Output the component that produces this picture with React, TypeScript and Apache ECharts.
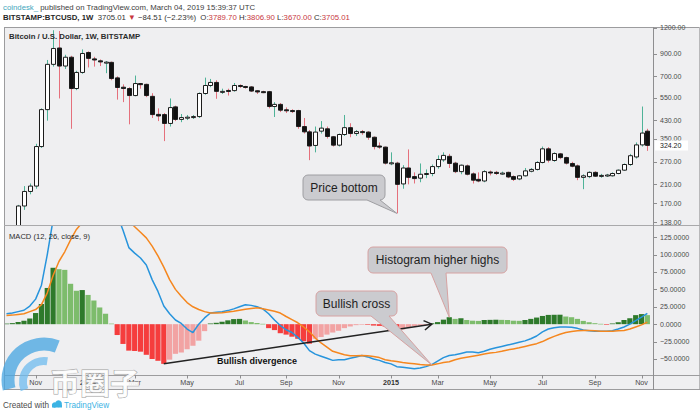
import React, { useEffect, useRef } from 'react';
import * as echarts from 'echarts';

// ---------- data (weekly bars, BITSTAMP BTCUSD) ----------
const firstWeek = '2013-09-30';
const axisStart = '2013-09-27';
const axisEnd = '2015-11-17';

const opens = [
  128, 124, 130, 165, 194, 206, 320, 483, 800, 960,
  785, 866, 611, 731, 913, 850, 832, 815, 818, 688,
  620, 611, 565, 646, 640, 560, 458, 457, 414, 498,
  433, 440, 444, 447, 578, 632, 654, 590, 598, 597,
  632, 625, 622, 596, 590, 590, 500, 512, 482, 478,
  478, 400, 377, 324, 380, 390, 357, 325, 366, 395,
  370, 378, 376, 355, 322, 318, 264, 266, 211, 252,
  229, 225, 235, 237, 256, 276, 287, 266, 242, 258,
  236, 222, 218, 241, 240, 237, 240, 229, 223, 231,
  243, 248, 268, 312, 274, 295, 283, 265, 258, 227,
  229, 240, 230, 232, 231, 237, 246, 262, 285, 326,
  380,
];
const closes = [
  124, 130, 165, 194, 206, 320, 483, 800, 955, 785,
  866, 611, 731, 903, 855, 840, 822, 820, 683, 618,
  611, 565, 646, 638, 565, 457, 450, 414, 494, 433,
  442, 444, 447, 578, 632, 654, 592, 592, 596, 632,
  626, 620, 594, 588, 588, 500, 512, 480, 477, 476,
  400, 377, 322, 376, 393, 358, 325, 366, 395, 370,
  378, 375, 355, 320, 318, 266, 267, 210, 252, 227,
  224, 235, 237, 256, 277, 290, 265, 242, 260, 235,
  220, 218, 242, 240, 237, 238, 228, 222, 231, 244,
  248, 268, 312, 275, 296, 283, 266, 257, 227, 231,
  240, 230, 232, 233, 237, 246, 262, 289, 326, 372,
  324.2,
];
const highs = [
  131, 130, 167, 206, 212, 330, 490, 840, 1170, 1160,
  890, 880, 745, 945, 925, 870, 845, 830, 825, 700,
  640, 620, 706, 650, 645, 580, 490, 465, 547, 505,
  460, 455, 455, 585, 690, 680, 670, 610, 610, 650,
  640, 630, 628, 600, 596, 595, 525, 520, 495, 485,
  482, 440, 385, 400, 425, 400, 360, 370, 455, 415,
  385, 385, 380, 358, 335, 320, 300, 270, 260, 310,
  240, 265, 248, 262, 290, 300, 295, 270, 262, 262,
  240, 240, 246, 245, 244, 242, 242, 232, 233, 252,
  252, 272, 320, 318, 300, 298, 286, 270, 262, 235,
  243, 243, 236, 236, 240, 248, 265, 295, 335, 500,
  390,
];
const lows = [
  108, 120, 126, 158, 188, 200, 315, 427, 780, 547,
  760, 390, 600, 720, 773, 780, 785, 725, 670, 540,
  525, 410, 560, 610, 555, 440, 425, 340, 400, 425,
  420, 430, 435, 440, 570, 620, 545, 575, 565, 590,
  615, 610, 588, 575, 580, 490, 445, 470, 465, 465,
  390, 370, 275, 300, 370, 350, 320, 320, 360, 355,
  360, 365, 345, 310, 312, 262, 260, 152, 200, 210,
  212, 215, 225, 230, 250, 270, 252, 238, 235, 232,
  212, 215, 215, 232, 233, 233, 225, 218, 220, 229,
  240, 245, 265, 268, 270, 278, 262, 254, 220, 199,
  225, 228, 226, 228, 229, 235, 244, 258, 280, 320,
  305,
];

// MACD (12, 26, close, 9)
const macdLine = [
  15, 16, 18, 20, 26, 36, 56, 100, 150, 169,
  182, 179, 184, 195, 198, 199, 194, 189, 176, 157,
  135, 110, 102, 95, 85, 64, 47, 26, 15, 6,
  1, -7, -12, 0, 9, 16, 17, 18, 19.5, 22,
  25, 28, 27, 25, 22, 15, 6, -2, -8, -12,
  -19, -27, -38, -43, -46, -49, -52, -51, -51, -49,
  -47, -45, -47, -50, -52, -55, -57, -61, -62, -63,
  -64, -63, -61, -58, -53, -48, -45, -44, -42, -40,
  -40, -41, -39, -36, -34, -32, -30, -28, -26, -24,
  -21, -17, -11, -7, -5, -4, -4, -4.5, -6, -8.5,
  -9.5, -10, -10, -10, -9.5, -7, -4, 0, 5, 10,
  15.5,
];
const signalLine = [
  12.5, 13, 14, 15, 18, 21, 28, 45, 70, 90,
  104, 121, 136, 146, 156, 165, 170, 174, 175, 172,
  164, 148, 140, 132, 124, 112, 98, 82, 64, 50,
  40, 31, 25, 21, 18, 16, 16, 16.5, 17.5, 18.5,
  20, 21.5, 22.5, 23.5, 22, 20.5, 18.5, 16, 11, 6.5,
  2, -4, -11, -20, -27, -33, -39, -41.5, -44, -45.5,
  -45.5, -45, -45.5, -46.5, -48, -51, -52.5, -53.5, -55, -56,
  -57, -58, -58.5, -58.5, -57, -55, -54, -51, -49, -47.5,
  -46, -44.5, -43, -41.5, -40.5, -39, -37, -35.5, -34, -32,
  -30, -28, -25, -21, -17.5, -14.5, -12, -10.5, -9.5, -9,
  -9, -9.5, -10, -10, -10, -9.5, -9, -7, -4, -1,
  3,
];
const histogram = [
  0.8, 1.5, 3.3, 5, 8, 16, 29, 52, 81, 79,
  78, 58, 48, 49, 42, 34, 24, 15, 0.8, -15.6,
  -28.4, -38, -38.5, -39.5, -44, -50, -52.6, -57, -51, -42.6,
  -40.7, -36, -31, -23.7, -10, 1, 2, 3.5, 5.5, 7.3,
  7.6, 5.3, 3, 1.8, 0.5, -5.7, -8.5, -13, -15, -18,
  -21, -24.6, -28, -21, -18.5, -15, -12, -9.5, -5.7, -3.3,
  -1.4, -0.5, -0.8, -2, -2.5, -3.5, -5, -9.5, -7.6, -4.7,
  -3, -2, -1.2, 1.3, 3, 6.5, 10, 7.6, 8.5, 6,
  5, 4.7, 6, 6.2, 6.4, 6.2, 6, 5, 4.8, 6,
  7.6, 9.5, 11.8, 13.3, 13.5, 13.6, 11, 10, 7.6, 4.7,
  2.8, 1.4, 0.5, -0.3, 1, 2.8, 6, 8.5, 13, 14.5,
  13,
];

const priceTicks = [1200, 900, 700, 550, 430, 350, 270, 210, 170, 138];
const macdTicks = [125, 100, 75, 50, 25, 0, -25, -50];
const timeTicks = [
  { date: '2013-11-04', label: 'Nov', year: false },
  { date: '2014-01-06', label: '2014', year: true },
  { date: '2014-03-03', label: 'Mar', year: false },
  { date: '2014-05-05', label: 'May', year: false },
  { date: '2014-07-07', label: 'Jul', year: false },
  { date: '2014-09-01', label: 'Sep', year: false },
  { date: '2014-11-03', label: 'Nov', year: false },
  { date: '2015-01-05', label: '2015', year: true },
  { date: '2015-03-02', label: 'Mar', year: false },
  { date: '2015-05-04', label: 'May', year: false },
  { date: '2015-07-06', label: 'Jul', year: false },
  { date: '2015-09-07', label: 'Sep', year: false },
  { date: '2015-11-02', label: 'Nov', year: false },
];

// ---------- helpers ----------
const toUTC = (s: string) => {
  const [y, m, d] = s.split('-').map(Number);
  return Date.UTC(y, m - 1, d);
};
const WEEK = 7 * 24 * 3600 * 1000;
const weeks = opens.map((_, i) => toUTC(firstWeek) + i * WEEK);
const FONT = 'Liberation Sans, Arial, Helvetica, sans-serif';

const histColor = (i: number) => {
  const v = histogram[i];
  const p = i > 0 ? histogram[i - 1] : v;
  if (v >= 0) return v >= p ? '#2e7a2b' : '#7dbc6c';
  return v < p ? '#f53d3d' : '#f2a3a3';
};

const txt = (x: number, y: number, text: string, opts: any = {}) => {
  const align = opts.align || 'left';
  return {
    type: 'text',
    x,
    y,
    z: opts.z ?? 20,
    style: {
      text,
      fontSize: opts.fontSize ?? 7,
      fontFamily: opts.fontFamily ?? FONT,
      fontWeight: opts.fontWeight ?? 'normal',
      fill: opts.fill ?? '#4a4a4a',
      stroke: opts.stroke,
      lineWidth: opts.lineWidth,
      opacity: opts.opacity ?? 1,
      textAlign: align,
      align,
      textVerticalAlign: 'middle',
      verticalAlign: 'middle',
      rich: opts.rich,
    },
  };
};
const ln = (x1: number, y1: number, x2: number, y2: number, stroke = '#a6a6a8', w = 1, z = 15) => ({
  type: 'line',
  z,
  shape: { x1, y1, x2, y2 },
  style: { stroke, lineWidth: w },
});

const calloutPoints = (
  x: number, y: number, w: number, h: number, r: number,
  b1: number, b2: number, tip: number[]
) => {
  const pts: number[][] = [];
  const arc = (cx: number, cy: number, a0: number, a1: number) => {
    for (let k = 0; k <= 4; k++) {
      const a = ((a0 + ((a1 - a0) * k) / 4) * Math.PI) / 180;
      pts.push([cx + r * Math.cos(a), cy + r * Math.sin(a)]);
    }
  };
  arc(x + r, y + r, 180, 270);
  arc(x + w - r, y + r, 270, 360);
  arc(x + w - r, y + h - r, 0, 90);
  pts.push([b2, y + h], tip, [b1, y + h]);
  arc(x + r, y + h - r, 90, 180);
  return pts;
};

export default function App() {
  const ref = useRef<HTMLDivElement>(null);

  useEffect(() => {
    const chart = echarts.init(ref.current as HTMLDivElement, undefined, { renderer: 'svg' });
    const xMin = toUTC(axisStart);
    const xMax = toUTC(axisEnd);

    chart.setOption({
      animation: false,
      backgroundColor: '#ffffff',
      grid: [
        { left: 4, right: 46, top: 27, height: 198 },
        { left: 4, right: 46, top: 226, height: 149 },
      ],
      xAxis: [
        { type: 'time', gridIndex: 0, min: xMin, max: xMax, show: false },
        { type: 'time', gridIndex: 1, min: xMin, max: xMax, show: false },
      ],
      yAxis: [
        { type: 'log', logBase: 10, gridIndex: 0, min: 133.5, max: 1213, show: false },
        { type: 'value', gridIndex: 1, min: -73, max: 141, show: false },
      ],
      series: [
        {
          type: 'custom',
          name: 'BTCUSD',
          xAxisIndex: 0,
          yAxisIndex: 0,
          clip: true,
          encode: { x: 0, y: [1, 2, 3, 4] },
          data: weeks.map((t, i) => [t, opens[i], closes[i], lows[i], highs[i]]),
          renderItem: (params: any, api: any) => {
            const t = api.value(0);
            const o = api.value(1);
            const c = api.value(2);
            const l = api.value(3);
            const h = api.value(4);
            const po = api.coord([t, o]);
            const pc = api.coord([t, c]);
            const pl = api.coord([t, l]);
            const ph = api.coord([t, h]);
            const x = Math.round(po[0]) + 0.5;
            const up = c >= o;
            const top = Math.min(po[1], pc[1]);
            const bh = Math.max(Math.abs(po[1] - pc[1]), 1);
            return {
              type: 'group',
              children: [
                {
                  type: 'line',
                  shape: { x1: x, y1: ph[1], x2: x, y2: pl[1] },
                  style: { stroke: up ? '#4fb398' : '#e5707c', lineWidth: 1 },
                },
                {
                  type: 'rect',
                  shape: { x: x - 2, y: top, width: 4, height: bh },
                  style: { fill: up ? '#ffffff' : '#111111', stroke: '#1c1c1c', lineWidth: 1 },
                },
              ],
            };
          },
        },
        {
          type: 'custom',
          name: 'Histogram',
          xAxisIndex: 1,
          yAxisIndex: 1,
          clip: true,
          encode: { x: 0, y: 1 },
          data: weeks.map((t, i) => [t, histogram[i]]),
          renderItem: (params: any, api: any) => {
            const t = api.value(0);
            const v = api.value(1);
            const p = api.coord([t, v]);
            const z = api.coord([t, 0]);
            return {
              type: 'rect',
              shape: {
                x: p[0] - 2.6,
                y: Math.min(p[1], z[1]),
                width: 5.2,
                height: Math.max(Math.abs(z[1] - p[1]), 0.6),
              },
              style: { fill: histColor(params.dataIndex) },
            };
          },
        },
        {
          type: 'line',
          name: 'MACD',
          xAxisIndex: 1,
          yAxisIndex: 1,
          showSymbol: false,
          data: weeks.map((t, i) => [t, macdLine[i]]),
          lineStyle: { color: '#2794dc', width: 1.5 },
          itemStyle: { color: '#2794dc' },
        },
        {
          type: 'line',
          name: 'Signal',
          xAxisIndex: 1,
          yAxisIndex: 1,
          showSymbol: false,
          data: weeks.map((t, i) => [t, signalLine[i]]),
          lineStyle: { color: '#f5871f', width: 1.5 },
          itemStyle: { color: '#f5871f' },
        },
      ],
    });

    const px = (t: number) => chart.convertToPixel({ xAxisIndex: 1 } as any, t) as unknown as number;
    const pyP = (v: number) => chart.convertToPixel({ yAxisIndex: 0 } as any, v) as unknown as number;
    const pyM = (v: number) => chart.convertToPixel({ yAxisIndex: 1 } as any, v) as unknown as number;

    const els: any[] = [];
    // frame background
    els.push({ type: 'rect', z: -10, shape: { x: 4, y: 27, width: 696, height: 363 }, style: { fill: '#efeff1' } });
    // borders
    els.push(ln(4, 27.5, 700, 27.5, '#9c9c9e'));
    els.push(ln(4.5, 27, 4.5, 390, '#9c9c9e'));
    els.push(ln(699.5, 27, 699.5, 390, '#b8b8ba'));
    els.push(ln(4, 389.5, 700, 389.5, '#9c9c9e'));
    els.push(ln(4, 225.5, 700, 225.5, '#a9a9ab'));
    els.push(ln(4, 375.5, 700, 375.5, '#9c9c9e'));
    els.push(ln(653.5, 27, 653.5, 390, '#8e8e90'));

    // header
    els.push(
      txt(3, 7, '{c|coindesk_}{n| published on TradingView.com, March 04, 2019 15:39:37 UTC}', {
        fontSize: 7.8,
        rich: {
          c: { fill: '#3fa6bd', fontSize: 7.8, fontFamily: FONT },
          n: { fill: '#3c3c3c', fontSize: 7.8, fontFamily: FONT },
        },
      })
    );
    els.push(
      txt(
        3,
        17.5,
        '{b|BITSTAMP:BTCUSD, 1W}{n|  3705.01 }{r|▼}{n| \u221284.51 (\u22122.23%)  O:}{r|3789.70}{n| H:}{r|3806.90}{n| L:}{r|3670.00}{n| C:}{r|3705.01}',
        {
          fontSize: 7.8,
          rich: {
            b: { fill: '#262626', fontSize: 7.8, fontWeight: 'bold', fontFamily: FONT },
            n: { fill: '#333333', fontSize: 7.8, fontFamily: FONT },
            r: { fill: '#c8383e', fontSize: 7.8, fontFamily: FONT },
          },
        }
      )
    );

    // pane titles
    els.push(txt(9, 36.5, 'Bitcoin / U.S. Dollar, 1W, BITSTAMP', { fontSize: 7.8, fontWeight: 'bold', fill: '#2b2b2b' }));
    els.push(txt(9, 236, 'MACD (12, 26, close, 9)', { fontSize: 7.6, fill: '#2b2b2b' }));

    // price axis labels (log scale)
    priceTicks.forEach((v) => {
      const y = pyP(v);
      els.push(ln(653.5, Math.round(y) + 0.5, 657, Math.round(y) + 0.5, '#8e8e90'));
      els.push(txt(660, y, v.toFixed(2), { fontSize: 7, fill: '#4a4a4a' }));
    });
    // last price label
    const lastY = pyP(closes[closes.length - 1]);
    els.push({ type: 'rect', z: 25, shape: { x: 655, y: lastY - 5, width: 33, height: 10 }, style: { fill: '#ffffff' } });
    els.push(txt(660, lastY, closes[closes.length - 1].toFixed(2), { fontSize: 7, fill: '#222222', z: 26 }));

    // MACD axis labels
    macdTicks.forEach((v) => {
      const y = pyM(v);
      els.push(ln(653.5, Math.round(y) + 0.5, 657, Math.round(y) + 0.5, '#8e8e90'));
      const s = v < 0 ? '\u2212' + Math.abs(v).toFixed(4) : v.toFixed(4);
      els.push(txt(660, y, s, { fontSize: 7, fill: '#4a4a4a' }));
    });

    // time axis labels
    timeTicks.forEach((tk) => {
      const x = px(toUTC(tk.date));
      els.push(ln(Math.round(x) + 0.5, 375, Math.round(x) + 0.5, 378.5, '#8e8e90'));
      els.push(
        txt(x, 382.5, tk.label, {
          align: 'center',
          fontSize: 7.2,
          fontWeight: tk.year ? 'bold' : 'normal',
          fill: tk.year ? '#333333' : '#4a4a4a',
        })
      );
    });

    // Price bottom callout
    const lowIdx = lows.indexOf(Math.min(...lows.slice(20)));
    const tipPB = [px(weeks[lowIdx]), pyP(lows[lowIdx])];
    els.push({
      type: 'polygon',
      z: 30,
      shape: { points: calloutPoints(303, 175, 82, 25, 5, 367, 380, tipPB) },
      style: { fill: '#cbcbcf', stroke: '#9e9ea2', lineWidth: 1 },
    });
    els.push(txt(344, 187.5, 'Price bottom', { align: 'center', fontSize: 12, fill: '#1e1e1e', z: 31 }));

    // Bullish divergence arrow (from histogram trough to the zero-cross)
    const troughIdx = 27;
    const crossIdx = 73;
    const sx = px(weeks[troughIdx]);
    const sy = pyM(histogram[troughIdx]);
    const ex = px(weeks[crossIdx]);
    const ey = pyM(0);
    els.push(ln(sx, sy, ex, ey, '#222222', 1.5, 30));
    const dx = ex - sx;
    const dy = ey - sy;
    const len = Math.hypot(dx, dy);
    const ux = dx / len;
    const uy = dy / len;
    const arm = (ang: number) => {
      const c = Math.cos(ang);
      const s = Math.sin(ang);
      const rx = -ux * c + uy * s;
      const ry = -ux * s - uy * c;
      return [ex + 9 * rx, ey + 9 * ry];
    };
    const a1 = arm((32 * Math.PI) / 180);
    const a2 = arm((-32 * Math.PI) / 180);
    els.push({
      type: 'polyline',
      z: 30,
      shape: { points: [a1, [ex, ey], a2] },
      style: { stroke: '#222222', lineWidth: 1.5, fill: 'none' },
    });
    els.push(txt(217, 361, 'Bullish divergence', { fontSize: 9, fontWeight: 'bold', fill: '#111111', z: 31 }));

    // Bullish cross callout
    const tipBC = [px(weeks[crossIdx]), pyM(signalLine[crossIdx])];
    els.push({
      type: 'polygon',
      z: 30,
      shape: { points: calloutPoints(316, 291, 81, 25, 5, 371, 389, tipBC) },
      style: { fill: '#cbcbcf', stroke: '#d6a2a2', lineWidth: 1 },
    });
    els.push(txt(356.5, 303.5, 'Bullish cross', { align: 'center', fontSize: 12, fill: '#1e1e1e', z: 31 }));

    // Histogram higher highs callout
    const hhIdx = 76;
    const tipHH = [px(weeks[hhIdx]), pyM(histogram[hhIdx])];
    els.push({
      type: 'polygon',
      z: 30,
      shape: { points: calloutPoints(368, 247, 139, 26, 5, 431, 446, tipHH) },
      style: { fill: '#cbcbcf', stroke: '#d6a2a2', lineWidth: 1 },
    });
    els.push(txt(437.5, 260, 'Histogram higher highs', { align: 'center', fontSize: 12, fill: '#1e1e1e', z: 31 }));

    // watermark
    els.push({
      type: 'arc',
      z: 40,
      shape: { cx: 44, cy: 380, r: 36, startAngle: Math.PI * 0.92, endAngle: Math.PI * 1.62 },
      style: { stroke: '#4aa6e2', lineWidth: 13, fill: 'none', opacity: 0.78 },
    });
    els.push({
      type: 'arc',
      z: 40,
      shape: { cx: 44, cy: 382, r: 21, startAngle: Math.PI * 0.88, endAngle: Math.PI * 1.55 },
      style: { stroke: '#6dbbed', lineWidth: 8, fill: 'none', opacity: 0.75 },
    });
    els.push(
      txt(50, 380.5, '币圈子', {
        fontSize: 30,
        fontWeight: 'bold',
        fontFamily: 'Noto Sans CJK SC, sans-serif',
        fill: 'rgba(255,255,255,0.9)',
        stroke: '#a0a0a0',
        lineWidth: 1,
        z: 41,
      })
    );

    // footer
    els.push(txt(3, 405, 'Created with', { fontSize: 8.2, fill: '#4d4d4d' }));
    els.push({ type: 'circle', z: 20, shape: { cx: 54.5, cy: 405, r: 2.6 }, style: { fill: '#3bb3e4' } });
    els.push({ type: 'circle', z: 20, shape: { cx: 58.5, cy: 403.8, r: 3.4 }, style: { fill: '#3bb3e4' } });
    els.push({ type: 'rect', z: 20, shape: { x: 52, y: 404.5, width: 10, height: 3 }, style: { fill: '#3bb3e4' } });
    els.push(txt(64, 405, 'TradingView', { fontSize: 8.2, fill: '#3bb3e4' }));

    chart.setOption({ graphic: els });

    return () => {
      chart.dispose();
    };
  }, []);

  return (
    <div
      ref={ref}
      style={{ position: 'fixed', left: 0, top: 0, width: 700, height: 413, background: '#ffffff' }}
    />
  );
}
